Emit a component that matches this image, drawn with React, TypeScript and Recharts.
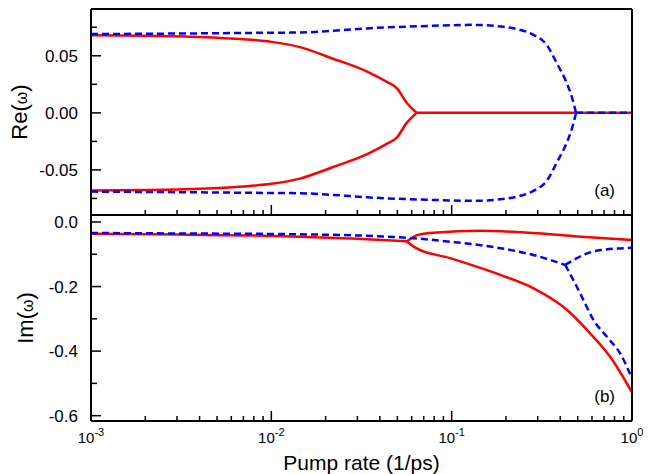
import React from 'react';
import { LineChart, Line, XAxis, YAxis } from 'recharts';

const FONT = '"Liberation Sans", Arial, Helvetica, sans-serif';

// x axis ticks (log scale)
const xMajorTicks = [0.001, 0.01, 0.1, 1];
const xMajorExponents = ['-3', '-2', '-1', '0'];
const xMinorTicks = [
  0.002, 0.003, 0.004, 0.005, 0.006, 0.007, 0.008, 0.009,
  0.02, 0.03, 0.04, 0.05, 0.06, 0.07, 0.08, 0.09,
  0.2, 0.3, 0.4, 0.5, 0.6, 0.7, 0.8, 0.9,
];
const xAllTicks = [...xMajorTicks, ...xMinorTicks];

// y ticks, panel (a)
const reMajorTicks = [-0.05, 0, 0.05];
const reMajorLabels = ['-0.05', '0.00', '0.05'];
const reMinorTicks = [-0.075, -0.025, 0.025, 0.075];
const reDomain = [-0.0895, 0.091];

// y ticks, panel (b)
const imMajorTicks = [-0.6, -0.4, -0.2, 0];
const imMajorLabels = ['-0.6', '-0.4', '-0.2', '0.0'];
const imMinorTicks = [-0.5, -0.3, -0.1];
const imDomain = [-0.6165, 0.0217];

// Panel (a): Re(omega)
const redReUpperX = [0.001, 0.002, 0.004, 0.007, 0.01, 0.0144, 0.022, 0.034, 0.0434, 0.0496, 0.0563, 0.064];
const redReUpperY = [0.068, 0.0676, 0.0665, 0.0645, 0.0622, 0.0576, 0.0474, 0.0362, 0.0274, 0.0217, 0.0088, 0];
const redReLowerX = [0.001, 0.002, 0.004, 0.007, 0.01, 0.0144, 0.022, 0.034, 0.0434, 0.0496, 0.0563, 0.064];
const redReLowerY = [-0.068, -0.0676, -0.0665, -0.0645, -0.0622, -0.0576, -0.0474, -0.0362, -0.0274, -0.0217, -0.0088, 0];
const redReZeroX = [0.064, 1];
const redReZeroY = [0, 0];

const blueReUpperX = [0.001, 0.003, 0.01, 0.0144, 0.022, 0.034, 0.0789, 0.1315, 0.186, 0.2296, 0.2838, 0.3365, 0.3826, 0.4349, 0.4633, 0.4894];
const blueReUpperY = [0.069, 0.0695, 0.0702, 0.0704, 0.0719, 0.074, 0.0763, 0.0771, 0.0757, 0.0734, 0.0684, 0.0596, 0.0436, 0.026, 0.0143, 0];
const blueReLowerX = [0.001, 0.003, 0.01, 0.0144, 0.022, 0.034, 0.0789, 0.1315, 0.186, 0.2296, 0.2838, 0.3365, 0.3826, 0.4349, 0.4633, 0.4894];
const blueReLowerY = [-0.069, -0.0695, -0.0702, -0.0704, -0.0719, -0.074, -0.0763, -0.0771, -0.0757, -0.0734, -0.0684, -0.0596, -0.0436, -0.026, -0.0143, 0];
const blueReZeroX = [0.4894, 1];
const blueReZeroY = [0, 0];

// Panel (b): Im(omega)
const redImX = [0.001, 0.003, 0.01, 0.0144, 0.03, 0.0563];
const redImY = [-0.036, -0.039, -0.043, -0.0455, -0.052, -0.060];
const redImUpperX = [0.0563, 0.065, 0.08, 0.1435, 0.3, 0.5, 1];
const redImUpperY = [-0.060, -0.040, -0.033, -0.027, -0.035, -0.045, -0.056];
const redImLowerX = [0.0563, 0.0637, 0.098, 0.186, 0.283, 0.435, 0.586, 0.755, 1];
const redImLowerY = [-0.060, -0.081, -0.112, -0.164, -0.205, -0.272, -0.345, -0.417, -0.528];

const blueImX = [0.001, 0.003, 0.01, 0.0144, 0.0563, 0.098, 0.186, 0.283, 0.426];
const blueImY = [-0.034, -0.0355, -0.037, -0.038, -0.0486, -0.061, -0.081, -0.102, -0.133];
const blueImUpperX = [0.426, 0.473, 0.537, 0.667, 1];
const blueImUpperY = [-0.133, -0.118, -0.102, -0.087, -0.080];
const blueImLowerX = [0.426, 0.473, 0.537, 0.611, 0.724, 0.859, 1];
const blueImLowerY = [-0.133, -0.180, -0.241, -0.303, -0.355, -0.407, -0.484];

const pts = (xs: number[], ys: number[]) => xs.map((x, i) => ({ x, y: ys[i] }));

const RED = '#ff0000';
const BLUE = '#0000ff';
const LW = 2.5;
const DASH = '7 4';

const makeYTick = (majors: number[], labels: string[]) => (props: any) => {
  const { x, y, payload } = props;
  const idx = majors.findIndex((m) => Math.abs(m - payload.value) < 1e-9);
  const len = idx >= 0 ? 10 : 6;
  return (
    <g>
      <line x1={x} x2={x + len} y1={y} y2={y} stroke="#000" strokeWidth={1.5} />
      {idx >= 0 && (
        <text x={x - 13} y={y} dy="0.36em" textAnchor="end" fontSize={17} fontFamily={FONT} fill="#000">
          {labels[idx]}
        </text>
      )}
    </g>
  );
};

const makeXTick = (showLabels: boolean) => (props: any) => {
  const { x, y, payload } = props;
  const idx = xMajorTicks.findIndex((m) => Math.abs(m - payload.value) < 1e-12);
  const len = idx >= 0 ? 10 : 5;
  return (
    <g>
      <line x1={x} x2={x} y1={y} y2={y - len} stroke="#000" strokeWidth={1.5} />
      {showLabels && idx >= 0 && (
        <text x={x} y={y + 22} textAnchor="middle" fontSize={15} fontFamily={FONT} fill="#000">
          10
          <tspan dy={-7} fontSize={11}>
            {xMajorExponents[idx]}
          </tspan>
        </text>
      )}
    </g>
  );
};

const makeYTitle = (main: string, baselineX: number) => (props: any) => {
  const vb = props.viewBox || {};
  const cy = vb.y + vb.height / 2;
  return (
    <text
      transform={`translate(${baselineX},${cy}) rotate(-90)`}
      textAnchor="middle"
      fontSize={22}
      fontFamily={FONT}
      fill="#000"
    >
      {main}(
      <tspan fontSize={16}>ω</tspan>)
    </text>
  );
};

const makePanelLabel = (txt: string) => (props: any) => {
  const vb = props.viewBox || {};
  return (
    <text x={vb.x - 17} y={vb.y + vb.height - 19} textAnchor="end" fontSize={17} fontFamily={FONT} fill="#000">
      {txt}
    </text>
  );
};

const XTitle = (props: any) => {
  const vb = props.viewBox || {};
  return (
    <text x={vb.x + vb.width / 2} y={vb.y + 49} textAnchor="middle" fontSize={21} fontFamily={FONT} fill="#000">
      Pump rate (1/ps)
    </text>
  );
};

const frameLine = { stroke: '#000', strokeWidth: 2 };

export default function App() {
  return (
    <div style={{ position: 'absolute', left: 0, top: 0, width: 657, height: 474, background: '#fff' }}>
      <div style={{ position: 'absolute', left: 0, top: 0 }}>
        <LineChart width={657} height={216} margin={{ top: 8, right: 24, bottom: 0, left: 0 }}>
          <XAxis
            dataKey="x"
            type="number"
            scale="log"
            domain={[0.001, 1]}
            allowDataOverflow
            ticks={xAllTicks}
            interval={0}
            tickSize={0}
            tickMargin={0}
            tickLine={false}
            tick={makeXTick(false)}
            height={1}
            axisLine={frameLine}
          />
          <XAxis
            xAxisId="top"
            orientation="top"
            dataKey="x"
            type="number"
            scale="log"
            domain={[0.001, 1]}
            allowDataOverflow
            tick={false}
            tickLine={false}
            height={1}
            axisLine={frameLine}
          />
          <YAxis
            type="number"
            domain={reDomain}
            allowDataOverflow
            ticks={[...reMajorTicks, ...reMinorTicks]}
            interval={0}
            tickSize={0}
            tickMargin={0}
            tickLine={false}
            tick={makeYTick(reMajorTicks, reMajorLabels)}
            width={91}
            axisLine={frameLine}
            label={makeYTitle('Re', 27)}
          />
          <YAxis
            yAxisId="right"
            orientation="right"
            type="number"
            domain={reDomain}
            allowDataOverflow
            tick={false}
            tickLine={false}
            width={1}
            axisLine={frameLine}
            label={makePanelLabel('(a)')}
          />
          <Line data={pts(redReUpperX, redReUpperY)} dataKey="y" type="monotone" stroke={RED} strokeWidth={LW} dot={false} isAnimationActive={false} />
          <Line data={pts(redReLowerX, redReLowerY)} dataKey="y" type="monotone" stroke={RED} strokeWidth={LW} dot={false} isAnimationActive={false} />
          <Line data={pts(redReZeroX, redReZeroY)} dataKey="y" type="linear" stroke={RED} strokeWidth={LW} dot={false} isAnimationActive={false} />
          <Line data={pts(blueReUpperX, blueReUpperY)} dataKey="y" type="monotone" stroke={BLUE} strokeWidth={LW} strokeDasharray={DASH} dot={false} isAnimationActive={false} />
          <Line data={pts(blueReLowerX, blueReLowerY)} dataKey="y" type="monotone" stroke={BLUE} strokeWidth={LW} strokeDasharray={DASH} dot={false} isAnimationActive={false} />
          <Line data={pts(blueReZeroX, blueReZeroY)} dataKey="y" type="linear" stroke={BLUE} strokeWidth={LW} strokeDasharray={DASH} dot={false} isAnimationActive={false} />
        </LineChart>
      </div>
      <div style={{ position: 'absolute', left: 0, top: 205 }}>
        <LineChart width={657} height={269} margin={{ top: 9, right: 24, bottom: 0, left: 0 }}>
          <XAxis
            dataKey="x"
            type="number"
            scale="log"
            domain={[0.001, 1]}
            allowDataOverflow
            ticks={xAllTicks}
            interval={0}
            tickSize={0}
            tickMargin={0}
            tickLine={false}
            tick={makeXTick(true)}
            height={53}
            axisLine={frameLine}
            label={<XTitle />}
          />
          <XAxis
            xAxisId="top"
            orientation="top"
            dataKey="x"
            type="number"
            scale="log"
            domain={[0.001, 1]}
            allowDataOverflow
            tick={false}
            tickLine={false}
            height={1}
            axisLine={frameLine}
          />
          <YAxis
            type="number"
            domain={imDomain}
            allowDataOverflow
            ticks={[...imMajorTicks, ...imMinorTicks]}
            interval={0}
            tickSize={0}
            tickMargin={0}
            tickLine={false}
            tick={makeYTick(imMajorTicks, imMajorLabels)}
            width={91}
            axisLine={frameLine}
            label={makeYTitle('Im', 33)}
          />
          <YAxis
            yAxisId="right"
            orientation="right"
            type="number"
            domain={imDomain}
            allowDataOverflow
            tick={false}
            tickLine={false}
            width={1}
            axisLine={frameLine}
            label={makePanelLabel('(b)')}
          />
          <Line data={pts(redImX, redImY)} dataKey="y" type="monotone" stroke={RED} strokeWidth={LW} dot={false} isAnimationActive={false} />
          <Line data={pts(redImUpperX, redImUpperY)} dataKey="y" type="monotone" stroke={RED} strokeWidth={LW} dot={false} isAnimationActive={false} />
          <Line data={pts(redImLowerX, redImLowerY)} dataKey="y" type="monotone" stroke={RED} strokeWidth={LW} dot={false} isAnimationActive={false} />
          <Line data={pts(blueImX, blueImY)} dataKey="y" type="monotone" stroke={BLUE} strokeWidth={LW} strokeDasharray={DASH} dot={false} isAnimationActive={false} />
          <Line data={pts(blueImUpperX, blueImUpperY)} dataKey="y" type="monotone" stroke={BLUE} strokeWidth={LW} strokeDasharray={DASH} dot={false} isAnimationActive={false} />
          <Line data={pts(blueImLowerX, blueImLowerY)} dataKey="y" type="monotone" stroke={BLUE} strokeWidth={LW} strokeDasharray={DASH} dot={false} isAnimationActive={false} />
        </LineChart>
      </div>
    </div>
  );
}
